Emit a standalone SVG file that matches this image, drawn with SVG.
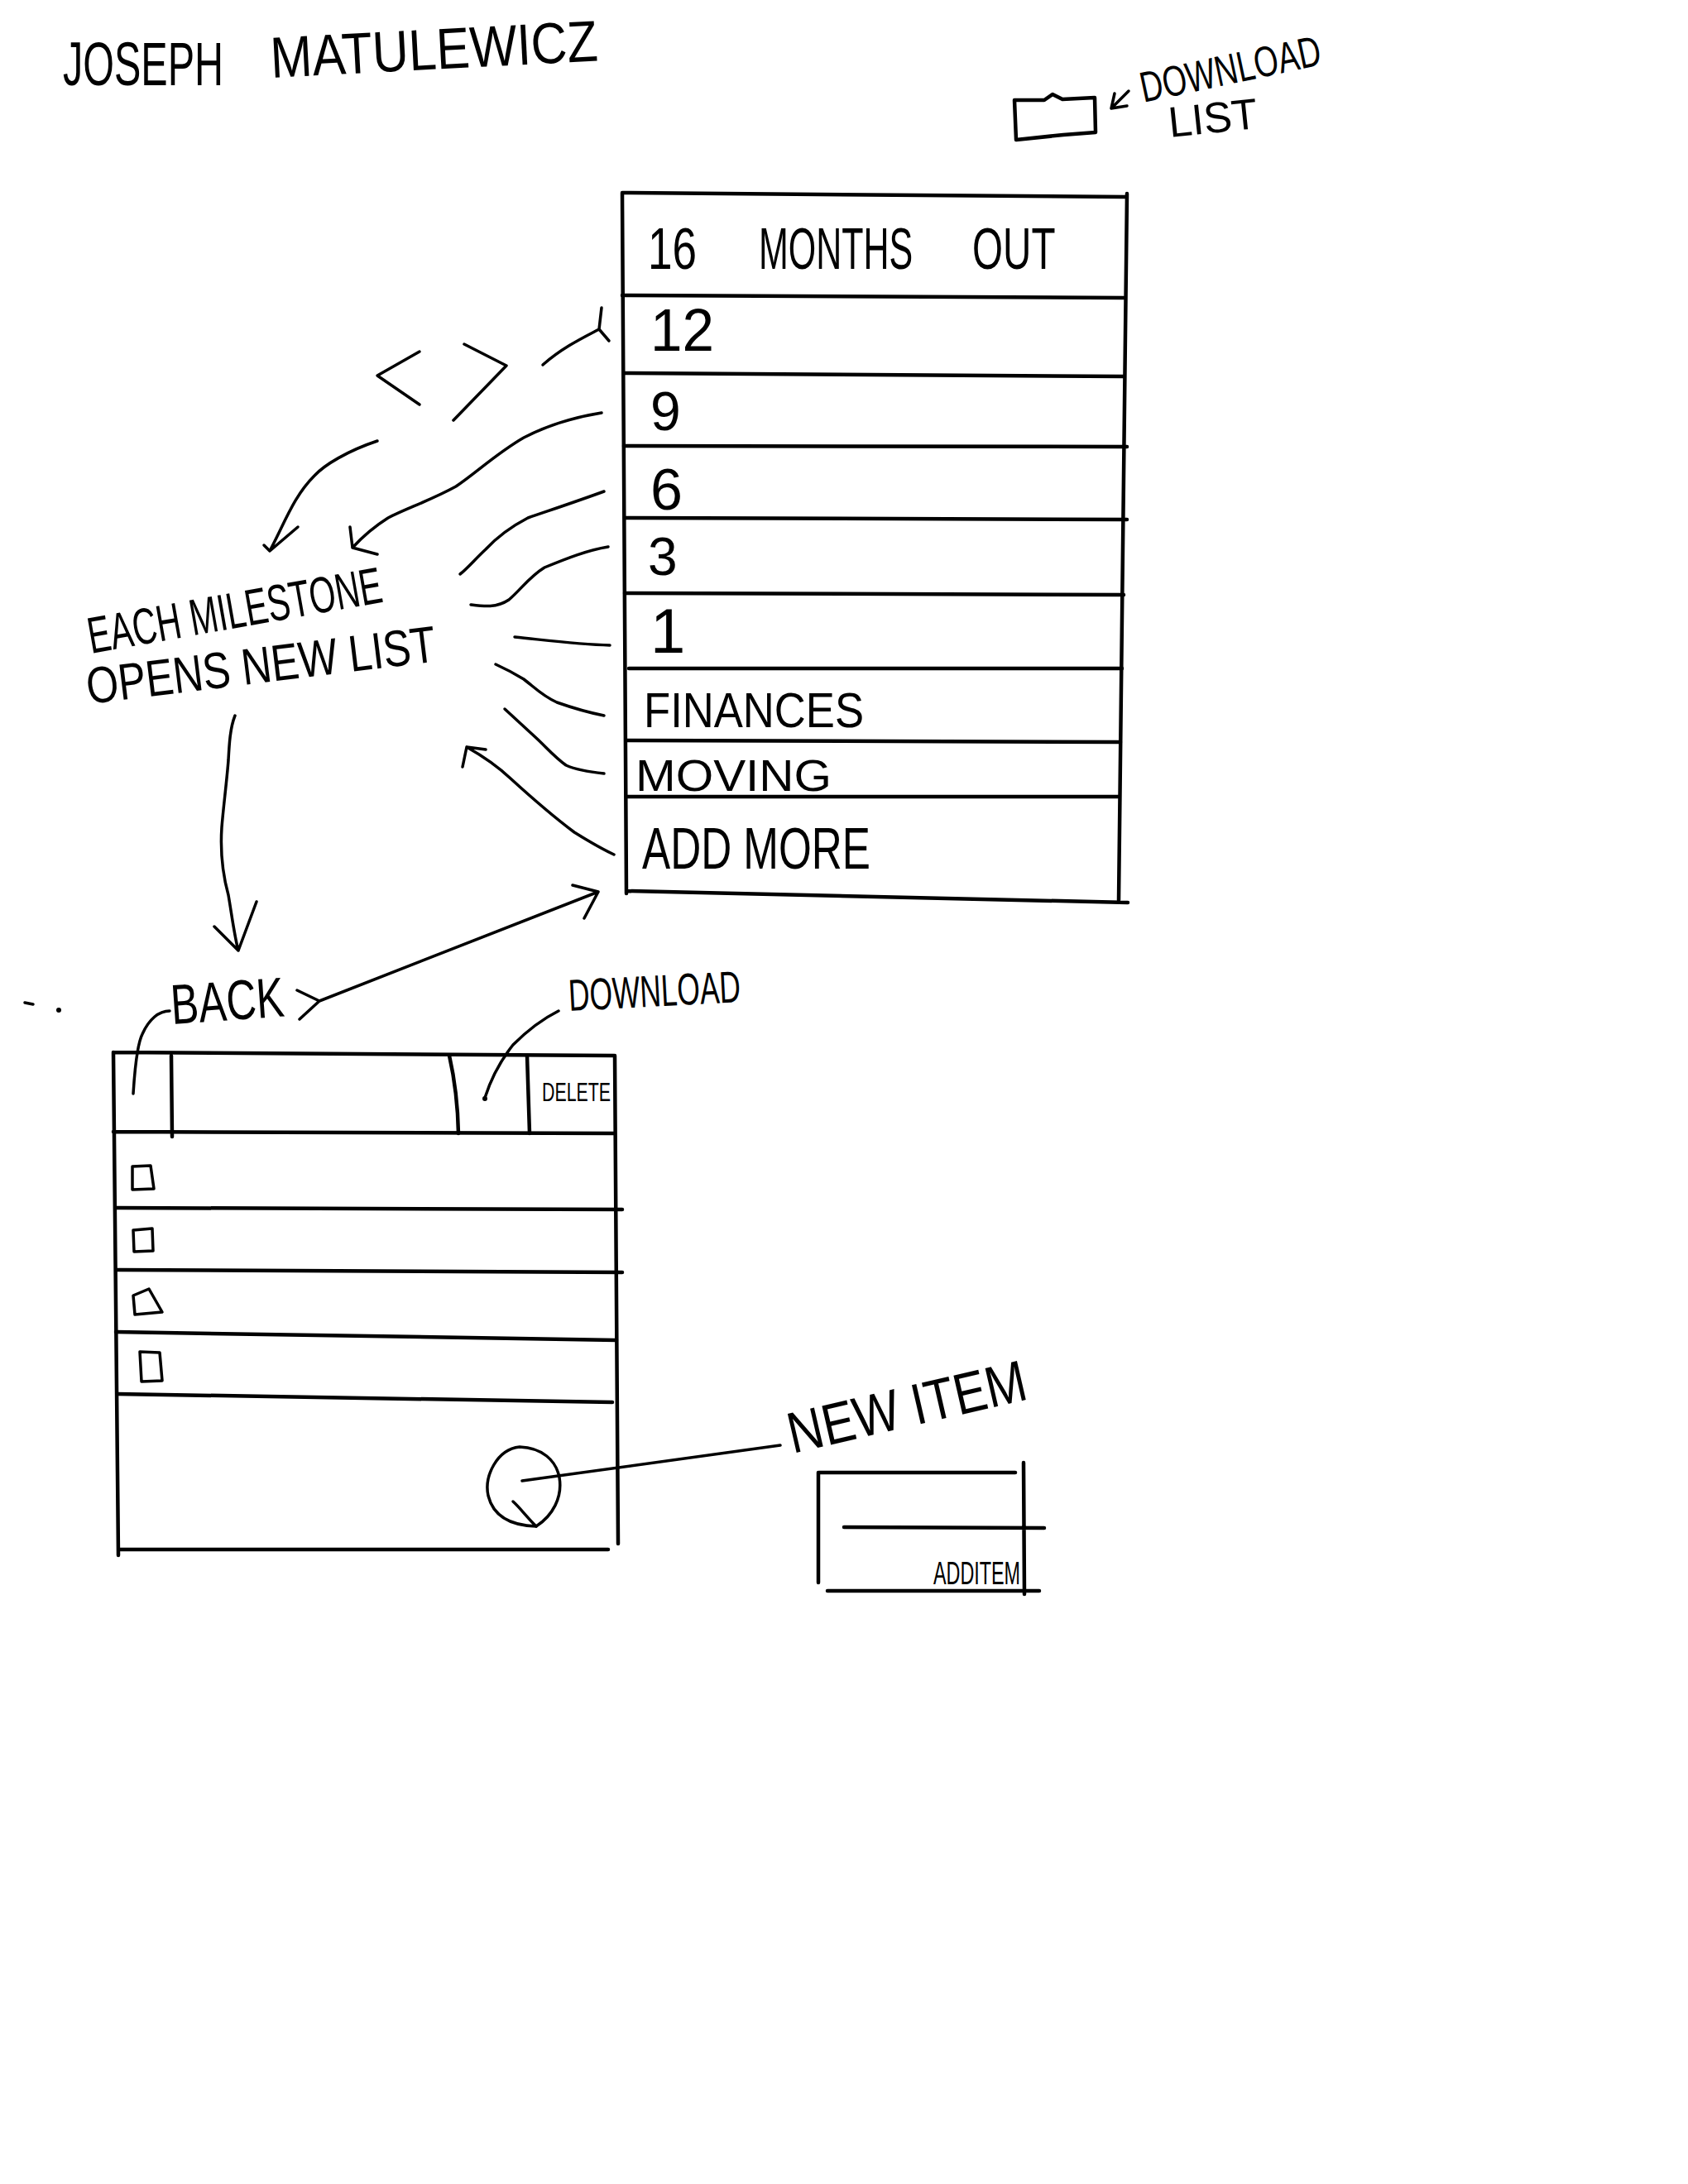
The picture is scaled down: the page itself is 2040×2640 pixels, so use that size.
<svg xmlns="http://www.w3.org/2000/svg" width="2040" height="2640" viewBox="0 0 2040 2640">
<style>
.ln{fill:none;stroke:#000;stroke-width:3.5;stroke-linecap:round;stroke-linejoin:round}
.bx{fill:none;stroke:#000;stroke-width:4.5;stroke-linecap:round;stroke-linejoin:round}
.hw{font-family:"Liberation Sans",Arial,sans-serif;fill:#000;font-weight:normal}
</style>
<rect width="2040" height="2640" fill="#fff"/>

<g id="title">
<text class="hw" x="76" y="103" font-size="74" textLength="194" lengthAdjust="spacingAndGlyphs">JOSEPH</text>
<text class="hw" x="328" y="94" font-size="70" textLength="396" lengthAdjust="spacingAndGlyphs" transform="rotate(-3 328 94)">MATULEWICZ</text>
</g>

<g id="download-list">
<path class="bx" d="M1226,121 L1262,121 L1272,114 L1284,120 L1323,118 L1324,160 L1285,163 L1228,169 Z"/>
<path class="ln" d="M1364,110 L1343,131 L1362,128 M1343,131 L1347,113"/>
<text class="hw" x="1382" y="124" font-size="52" textLength="222" lengthAdjust="spacingAndGlyphs" transform="rotate(-12 1382 124)">DOWNLOAD</text>
<text class="hw" x="1414" y="166" font-size="52" textLength="108" lengthAdjust="spacingAndGlyphs" transform="rotate(-6 1414 166)">LIST</text>
</g>

<g id="main-list">
<path class="bx" d="M752,233 L1360,238 M752,233 L757,1080 M1362,234 L1352,1088 M757,1077 L1363,1091"/>
<path class="bx" d="M752,357 L1358,360 M754,451 L1358,455 M754,539 L1362,540 M755,626 L1362,628 M755,717 L1358,719 M760,808 L1356,808 M757,895 L1354,897 M757,963 L1352,963"/>
<text class="hw" x="783" y="325" font-size="70" textLength="59" lengthAdjust="spacingAndGlyphs">16</text>
<text class="hw" font-size="70" transform="translate(917 325) scale(0.614 1)">MONTHS</text>
<text class="hw" font-size="70" transform="translate(1175 325) scale(0.68 1)">OUT</text>
<text class="hw" x="786" y="424" font-size="72" textLength="77" lengthAdjust="spacingAndGlyphs">12</text>
<text class="hw" x="786" y="520" font-size="66">9</text>
<text class="hw" x="786" y="616" font-size="70">6</text>
<text class="hw" x="783" y="695" font-size="64">3</text>
<text class="hw" x="786" y="789" font-size="76">1</text>
<text class="hw" x="778" y="879" font-size="60" textLength="266" lengthAdjust="spacingAndGlyphs">FINANCES</text>
<text class="hw" x="768" y="956" font-size="54" textLength="237" lengthAdjust="spacingAndGlyphs">MOVING</text>
<text class="hw" x="776" y="1050" font-size="70" textLength="276" lengthAdjust="spacingAndGlyphs">ADD MORE</text>
</g>

<g id="nav-arrows">
<path class="ln" d="M507,425 L456,454 L507,489"/>
<path class="ln" d="M561,416 L612,442 L548,508"/>
</g>

<g id="milestone-note">
<text class="hw" x="110" y="790" font-size="62" textLength="360" lengthAdjust="spacingAndGlyphs" transform="rotate(-10 110 790)">EACH MILESTONE</text>
<text class="hw" x="107" y="851" font-size="62" textLength="425" lengthAdjust="spacingAndGlyphs" transform="rotate(-7 107 851)">OPENS NEW LIST</text>
</g>

<g id="back-label">
<text class="hw" x="208" y="1238" font-size="68" textLength="137" lengthAdjust="spacingAndGlyphs" transform="rotate(-4 208 1238)">BACK</text>
</g>

<g id="download-label">
<text class="hw" x="688" y="1222" font-size="54" textLength="208" lengthAdjust="spacingAndGlyphs" transform="rotate(-3 688 1222)">DOWNLOAD</text>
</g>

<g id="detail-list">
<path class="bx" d="M137,1272 L742,1276 M137,1272 L143,1880 M743,1276 L747,1866 M137,1368 L742,1370 M143,1873 L735,1873"/>
<path class="bx" d="M140,1460 L752,1462 M142,1535 L752,1538 M140,1610 L745,1620 M142,1685 L740,1695"/>
<path class="bx" d="M207,1276 L208,1374 M543,1276 Q553,1320 554,1370 M637,1276 L640,1370"/>
<text class="hw" x="655" y="1331" font-size="32" textLength="83" lengthAdjust="spacingAndGlyphs">DELETE</text>
<path class="ln" d="M160,1410 L182,1409 L186,1437 L160,1438 Z"/>
<path class="ln" d="M161,1487 L184,1485 L185,1512 L162,1513 Z"/>
<path class="ln" d="M161,1566 L180,1558 L196,1586 L163,1589 Z"/>
<path class="ln" d="M169,1634 L193,1635 L196,1669 L171,1670 Z"/>
<path class="ln" d="M628,1749 C600,1752 585,1785 590,1808 C596,1832 615,1844 648,1845 C668,1832 680,1810 676,1786 C672,1765 655,1750 628,1749 Z"/>
</g>

<g id="new-item-label">
<text class="hw" x="958" y="1757" font-size="70" textLength="294" lengthAdjust="spacingAndGlyphs" transform="rotate(-13 958 1757)">NEW ITEM</text>
</g>

<g id="new-item-form">
<path class="bx" d="M990,1780 L1227,1780 M989,1780 L989,1913 M1237,1768 L1238,1927 M1020,1846 L1262,1847 M1000,1923 L1256,1923"/>
<text class="hw" x="1128" y="1915" font-size="38" textLength="105" lengthAdjust="spacingAndGlyphs">ADDITEM</text>
</g>

<g id="connectors">
<path class="ln" d="M656,441 C680,420 705,408 724,398 M727,372 L724,398 L736,412"/>
<path class="ln" d="M456,533 C420,545 392,562 380,575 C355,600 345,630 326,666 M319,659 L326,666 L360,637"/>
<path class="ln" d="M727,499 C690,505 660,515 633,529 C600,548 575,572 551,588 C520,605 490,615 469,626 C450,638 437,650 426,662 M423,637 L426,662 L456,670"/>
<path class="ln" d="M730,594 C700,605 670,615 638,626 C615,638 600,650 587,664 C575,675 565,687 556,694"/>
<path class="ln" d="M735,661 C710,665 685,675 658,686 C640,697 630,712 615,725 C600,735 585,733 569,731"/>
<path class="ln" d="M737,780 C700,779 670,775 622,770"/>
<path class="ln" d="M730,865 C705,860 690,855 673,849 C655,841 645,830 633,821 C620,813 610,808 599,803"/>
<path class="ln" d="M730,935 C710,933 695,930 684,925 C670,915 660,903 648,892 C635,880 622,868 610,857"/>
<path class="ln" d="M742,1033 C725,1025 710,1016 694,1006 C670,988 640,962 617,941 C600,925 580,912 564,903 M559,927 L564,903 L587,906"/>
<path class="ln" d="M284,865 C278,880 277,900 276,919 C274,945 270,975 268,1000 C266,1030 270,1060 276,1082 C280,1105 283,1130 288,1149 M259,1120 L288,1149 L310,1090"/>
<path class="ln" d="M161,1322 C163,1290 166,1262 172,1250 C180,1232 192,1222 205,1222"/>
<path class="ln" d="M359,1197 L386,1210 L362,1232 M386,1210 L723,1078 M692,1070 L723,1078 L706,1110"/>
<path class="ln" d="M675,1222 C655,1232 635,1248 620,1263 C605,1282 593,1305 586,1327"/>
<circle cx="586" cy="1328" r="3" fill="#000"/>
<path class="ln" d="M631,1790 L943,1747"/>
<path class="ln" d="M620,1815 C628,1822 635,1832 648,1845"/>
</g>

<g id="marks">
<path class="ln" d="M30,1212 L40,1214"/>
<circle cx="71" cy="1221" r="3" fill="#000"/>
</g>
</svg>
